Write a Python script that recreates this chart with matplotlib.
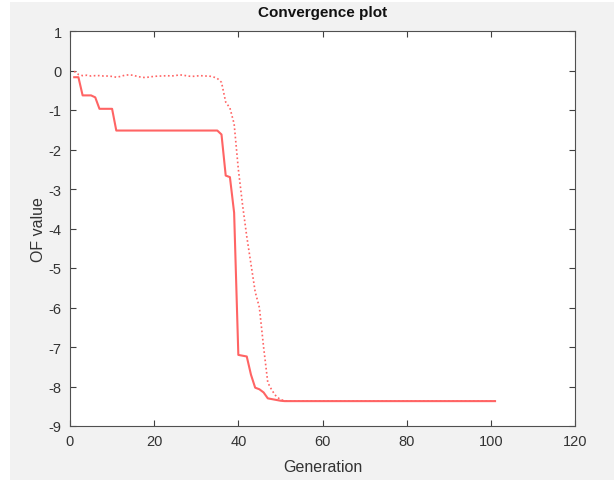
import matplotlib
matplotlib.use("Agg")
import matplotlib.pyplot as plt
from matplotlib.patches import Rectangle

plt.rcParams['font.family'] = ['Liberation Sans', 'DejaVu Sans']
plt.rcParams['axes.unicode_minus'] = False

generation = list(range(1, 102))

best_of = ([-0.17, -0.17, -0.63, -0.63, -0.63, -0.68, -0.97, -0.97, -0.97, -0.97]
           + [-1.52] * 25
           + [-1.62, -2.66, -2.70, -3.6, -7.2, -7.22, -7.24, -7.7, -8.03, -8.07,
              -8.15, -8.30, -8.32, -8.34, -8.36]
           + [-8.37] * 51)

mean_of = ([-0.02, -0.10, -0.13, -0.12, -0.14, -0.13, -0.13, -0.14, -0.14, -0.15,
            -0.17, -0.15, -0.12, -0.11, -0.12, -0.15, -0.17, -0.18, -0.16, -0.15,
            -0.14, -0.14, -0.13, -0.14, -0.13, -0.11, -0.12, -0.14, -0.15, -0.14,
            -0.13, -0.14, -0.14, -0.16, -0.20, -0.30, -0.80, -0.95, -1.35, -2.50,
            -3.40, -4.20, -4.90, -5.60, -6.00, -7.00, -7.90, -8.10, -8.25, -8.33,
            -8.36]
           + [-8.37] * 50)

xticks = [0, 20, 40, 60, 80, 100, 120]
yticks = [1, 0, -1, -2, -3, -4, -5, -6, -7, -8, -9]

fig = plt.figure(figsize=(6.14, 4.81), dpi=100, facecolor='white')
fig.patches.append(Rectangle((10 / 614, 0), 1 - 10 / 614, 1 - 3 / 481,
                             transform=fig.transFigure, facecolor='#f2f2f2',
                             edgecolor='none', zorder=-10))

ax = fig.add_axes([70 / 614, 1 - 427 / 481, 505 / 614, 395 / 481])
ax.set_facecolor('white')

line_color = '#ff6464'
ax.plot(generation, best_of, color=line_color, lw=1.5, linestyle='-')
ax.plot(generation, mean_of, color=line_color, lw=1.2, linestyle=(0, (1, 1.5)))

ax.set_xlim(0, 120)
ax.set_ylim(-9, 1)
ax.set_xticks(xticks)
ax.set_yticks(yticks)

ax.tick_params(direction='in', top=True, right=True, length=4, width=0.8,
               colors='#404040', labelsize=10.5, labelcolor='#333333', pad=6)
for s in ax.spines.values():
    s.set_color('#505050')
    s.set_linewidth(0.8)

ax.set_title('Convergence plot', fontsize=11, fontweight='bold', color='#111111', pad=11)
ax.set_xlabel('Generation', fontsize=11.5, color='#333333', labelpad=8)
ax.set_ylabel('OF value', fontsize=11.5, color='#333333', labelpad=2)

fig.savefig('out.png', dpi=100, facecolor=fig.get_facecolor())
